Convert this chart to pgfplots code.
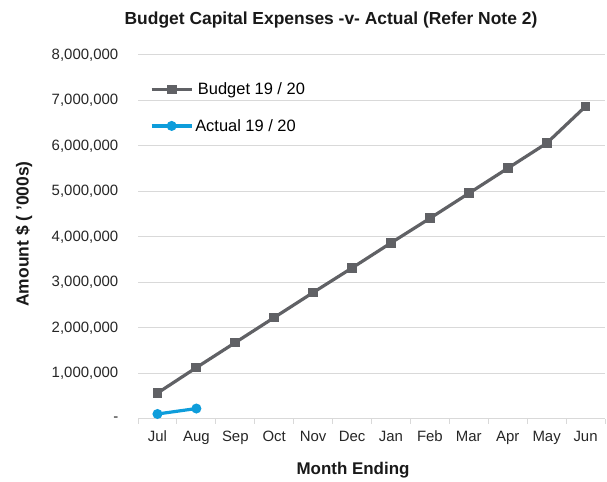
\documentclass[border=0pt]{standalone}
\usepackage{fontspec}
\setmainfont{Liberation Sans}
\usepackage{pgfplots}
\pgfplotsset{compat=1.18}
\definecolor{budget}{RGB}{96,97,101}
\definecolor{actual}{RGB}{14,157,219}
\definecolor{gridc}{RGB}{217,217,217}
\begin{document}
\begin{tikzpicture}[x=1bp,y=1bp]
\path[use as bounding box] (0,0) rectangle (607,482);
\begin{axis}[
  at={(138bp,63bp)}, anchor=south west,
  scale only axis, width=467bp, height=364bp,
  xmin=-0.5, xmax=11.5, ymin=0, ymax=8000000,
  axis x line*=bottom, axis y line*=left,
  y axis line style={draw=none},
  x axis line style={draw=gridc, line width=1bp},
  xtick={0,...,11},
  xticklabels={Jul,Aug,Sep,Oct,Nov,Dec,Jan,Feb,Mar,Apr,May,Jun},
  major x tick style={draw=none},
  minor xtick={-0.5,0.5,...,11.5},
  minor x tick style={draw=gridc, line width=1bp},
  tick align=outside, minor tick length=5bp,
  ytick={0,1000000,2000000,3000000,4000000,5000000,6000000,7000000,8000000},
  yticklabels={{-\hspace{5bp}},{1,000,000},{2,000,000},{3,000,000},{4,000,000},{5,000,000},{6,000,000},{7,000,000},{8,000,000}},
  major y tick style={draw=none},
  ymajorgrids, major grid style={draw=gridc, line width=1bp},
  scaled y ticks=false,
  /pgf/number format/assume math mode=true,
  tick label style={font=\fontsize{15}{18}\selectfont, text=black!85},
  yticklabel style={xshift=-12bp},
  xticklabel style={yshift=-4bp},
  legend style={at={(0.019,0.935)}, anchor=north west, draw=none, fill=none,
    font=\fontsize{16.5}{20}\selectfont, row sep=19bp,
    /tikz/every even column/.append style={column sep=0bp}},
  legend cell align=left,
  legend image code/.code={
    \draw[#1, mark=none] (0bp,0bp) -- (40bp,0bp);
    \draw[#1, only marks] plot coordinates {(20bp,0bp)};
  },
]
\addplot[budget, line width=3.2bp, mark=square*, mark size=3.3bp, mark options={solid}]
  coordinates {(0,570000) (1,1130000) (2,1680000) (3,2230000) (4,2780000) (5,3320000)
               (6,3870000) (7,4410000) (8,4960000) (9,5510000) (10,6060000) (11,6870000)};
\addlegendentry{\,Budget 19 / 20}
\addplot[actual, line width=3.2bp, mark=*, mark size=3.3bp, mark options={solid}]
  coordinates {(0,110000) (1,230000)};
\addlegendentry{Actual 19 / 20}
\end{axis}
\node[font=\fontsize{17.5}{21}\selectfont\bfseries, text=black!90] at (331,462) {Budget Capital Expenses -v- Actual (Refer Note 2)};
\node[font=\fontsize{17}{20}\selectfont\bfseries, text=black!90] at (353,12) {Month Ending};
\node[font=\fontsize{17.5}{21}\selectfont\bfseries, text=black!90, rotate=90] at (24,248) {Amount \$ ( '000s)};
\end{tikzpicture}
\end{document}
